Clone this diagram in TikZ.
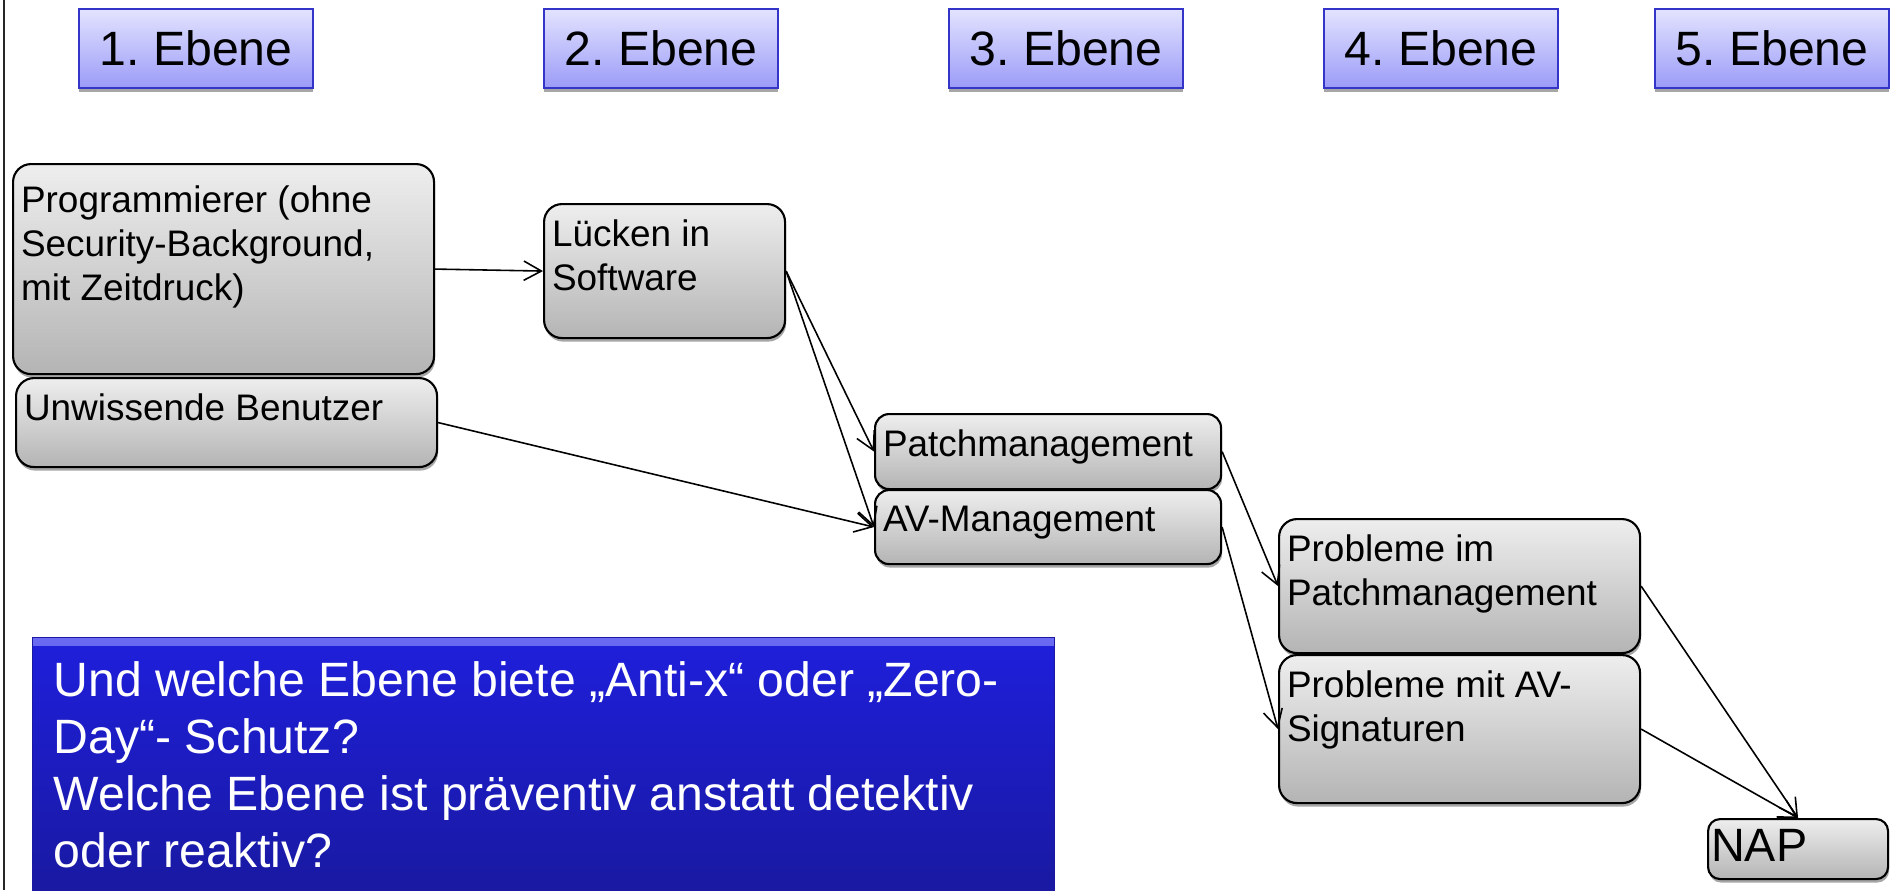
\documentclass[tikz,border=0pt]{standalone}
\usepackage{fontspec}
\setmainfont{Liberation Sans}
\usetikzlibrary{arrows.meta,shadows}

\definecolor{ebeneoben}{HTML}{E3E3FF}
\definecolor{ebeneunten}{HTML}{9B9BF8}
\definecolor{ebenerand}{HTML}{3434C8}
\definecolor{grauoben}{HTML}{EEEEEE}
\definecolor{grauunten}{HTML}{B4B4B4}
\definecolor{frageoben}{HTML}{1F1FDC}
\definecolor{frageunten}{HTML}{1919A2}
\definecolor{fragekante}{HTML}{6A6AF2}

% 1 px der Vorlage = 0.01cm
\newdimen\pxl \pxl=0.01cm
\newcommand{\kasten}[3]{\parbox[c][#2\pxl][t]{#1\pxl}{\raggedright #3}}

\tikzset{
  ebene/.style={draw=ebenerand, line width=0.6pt, top color=ebeneoben, bottom color=ebeneunten,
    minimum width=2.34cm, minimum height=0.79cm, inner sep=0pt, anchor=north west,
    font=\fontsize{13.7pt}{16pt}\selectfont,
    drop shadow={shadow xshift=0pt, shadow yshift=-1pt, fill=gray, opacity=0.7}},
  ursache/.style={draw=black, line width=0.6pt, rounded corners=0.18cm,
    top color=grauoben, bottom color=grauunten, inner xsep=0.08cm, inner ysep=0.16cm,
    anchor=north west, font=\fontsize{10.5pt}{12.5pt}\selectfont,
    drop shadow={shadow xshift=0.3pt, shadow yshift=-1pt, fill=gray, opacity=0.7}},
  frage/.style={draw=frageunten, line width=0.4pt, top color=frageoben, bottom color=frageunten,
    text=white, inner xsep=0.21cm, inner ysep=0.24cm, anchor=north west,
    font=\fontsize{13.7pt}{16.2pt}\selectfont,
    path picture={\shade[top color=fragekante, bottom color=frageoben]
      (path picture bounding box.north west) rectangle ([yshift=-0.08cm]path picture bounding box.north east);}},
  pfeil/.style={-{Straight Barb[length=5pt,width=5.5pt]}, line width=0.45pt}
}

\begin{document}
\frenchspacing
\begin{tikzpicture}[x=0.01cm, y=-0.01cm]
  \useasboundingbox (0,0) rectangle (1890,890);
  \draw[line width=0.6pt, black!85] (4,0) -- (4,890);

  % Ebenen
  \foreach \n/\x in {1/78, 2/543, 3/948, 4/1323, 5/1654}
    \node[ebene] (ebene\n) at (\x,8) {\n. Ebene};

  \node[ursache, inner ysep=0.22cm] (prog) at (12,163)
    {\kasten{405}{166}{Programmierer (ohne\\Security-Background,\\mit Zeitdruck)}};
  \node[ursache] (benutzer) at (15,377) {\kasten{405}{57}{Unwissende Benutzer}};
  \node[ursache] (luecken) at (543,203) {\kasten{225}{102}{Lücken in\\Software}};
  \node[ursache, rounded corners=0.14cm] (patch) at (874,413) {\kasten{330}{43}{Patchmanagement}};
  \node[ursache, rounded corners=0.14cm] (av) at (874,489) {\kasten{330}{42}{AV-Management}};
  \node[ursache] (probpatch) at (1278,518) {\kasten{345}{102}{Probleme im\\Patchmanagement}};
  \node[ursache] (probav) at (1278,654) {\kasten{345}{116}{Probleme mit AV-\\Signaturen}};
  \node[ursache, rounded corners=0.12cm, inner xsep=0.03cm, inner ysep=0.1cm,
    font=\fontsize{13.3pt}{15pt}\selectfont] (nap) at (1707,818) {\kasten{174}{40}{NAP}};

  \node[frage] (frage) at (32,637)
    {\kasten{980}{205}{Und welche Ebene biete „Anti-x“ oder „Zero-\\Day“- Schutz?\\Welche Ebene ist präventiv anstatt detektiv\\oder reaktiv?}};

  \draw[pfeil] (prog.east) -- (luecken.west);
  \draw[pfeil] (luecken.east) -- (patch.west);
  \draw[pfeil] (luecken.east) -- (av.west);
  \draw[pfeil] (benutzer.east) -- (av.west);
  \draw[pfeil] (patch.east) -- (probpatch.west);
  \draw[pfeil] (av.east) -- (probav.west);
  \draw[pfeil] (probpatch.east) -- (nap.north);
  \draw[pfeil] (probav.east) -- (nap.north);
\end{tikzpicture}
\end{document}
